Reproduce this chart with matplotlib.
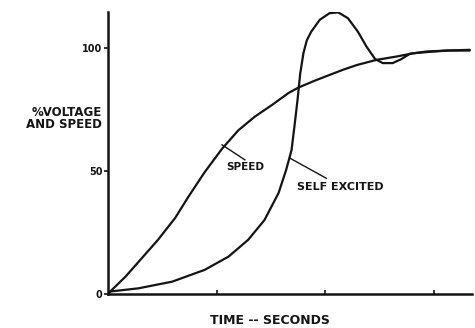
import matplotlib
matplotlib.use("Agg")
import matplotlib.pyplot as plt

# time in "seconds" units (tick spacing = 1), values in percent
speed_t = [0.0, 0.02, 0.16, 0.31, 0.46, 0.62, 0.74, 0.89, 1.05, 1.20, 1.35, 1.51,
           1.66, 1.75, 1.90, 2.04, 2.17, 2.29, 2.47, 2.66, 2.81, 2.97, 3.12, 3.33]
speed_v = [0.0, 1, 7, 14.5, 22, 31, 39.5, 49.5, 59, 66.5, 72, 76.8,
           81.6, 83.8, 86.6, 89, 91.2, 93, 95.1, 96.5, 97.8, 98.4, 98.9, 99.2]

self_t = [0.0, 0.02, 0.28, 0.59, 0.89, 1.11, 1.29, 1.44, 1.57, 1.64, 1.69, 1.72,
          1.745, 1.77, 1.80, 1.83, 1.87, 1.95, 2.04, 2.12, 2.21, 2.30, 2.38, 2.46,
          2.53, 2.62, 2.70, 2.78, 2.93, 3.12, 3.33]
self_v = [0.0, 1, 2.3, 5, 9.8, 15.2, 22, 30, 41, 50.4, 58.5, 69.4,
          78.9, 89.7, 98, 103, 106.5, 111.4, 114.1, 114.4, 112, 106.6, 100.5, 95.4,
          93.8, 93.8, 95.4, 97.6, 98.5, 98.9, 98.9]

y_ticks = [0, 50, 100]
y_tick_labels = ["0", "50", "100"]
x_ticks = [1, 2, 3]

ink = "#141414"
fig = plt.figure(figsize=(4.75, 3.28), dpi=100)
ax = fig.add_axes([0.2274, 0.1037, 0.766, 0.86])

ax.plot(speed_t, speed_v, color=ink, lw=1.6, solid_joinstyle="round", solid_capstyle="round")
ax.plot(self_t, self_v, color=ink, lw=1.6, solid_joinstyle="round", solid_capstyle="round")

ax.set_xlim(0, 3.35)
ax.set_ylim(0, 114.6)
for s in ["top", "right"]:
    ax.spines[s].set_visible(False)
for s in ["left", "bottom"]:
    ax.spines[s].set_linewidth(1.8)
    ax.spines[s].set_color(ink)
ax.patch.set_alpha(0)

ax.set_yticks(y_ticks)
ax.set_yticklabels(y_tick_labels, fontsize=7, fontweight="bold", color=ink)
ax.tick_params(axis="y", direction="out", length=3, width=1.2, pad=1, colors=ink)
ax.set_xticks(x_ticks)
ax.set_xticklabels([])
ax.tick_params(axis="x", direction="in", length=3, width=1.2, colors=ink)

fig.text(102/475, 1 - 113/328, "%VOLTAGE", ha="right", va="center",
         fontsize=8.5, fontweight="heavy", color=ink)
fig.text(102/475, 1 - 125/328, "AND SPEED", ha="right", va="center",
         fontsize=8.5, fontweight="heavy", color=ink)
fig.text(270/475, 1 - 320/328, "TIME -- SECONDS", ha="center", va="center",
         fontsize=9, fontweight="heavy", color=ink)

# curve labels with leaders
ax.plot([1.05, 1.26], [60.6, 54.5], color=ink, lw=1.0)
ax.text(1.09, 51.6, "SPEED", fontsize=7.5, fontweight="heavy", color=ink,
        ha="left", va="center")
ax.plot([1.67, 2.01], [55.3, 47.0], color=ink, lw=1.0)
ax.text(1.74, 43.5, "SELF EXCITED", fontsize=8, fontweight="heavy", color=ink,
        ha="left", va="center")

fig.savefig("out.png", dpi=100)
